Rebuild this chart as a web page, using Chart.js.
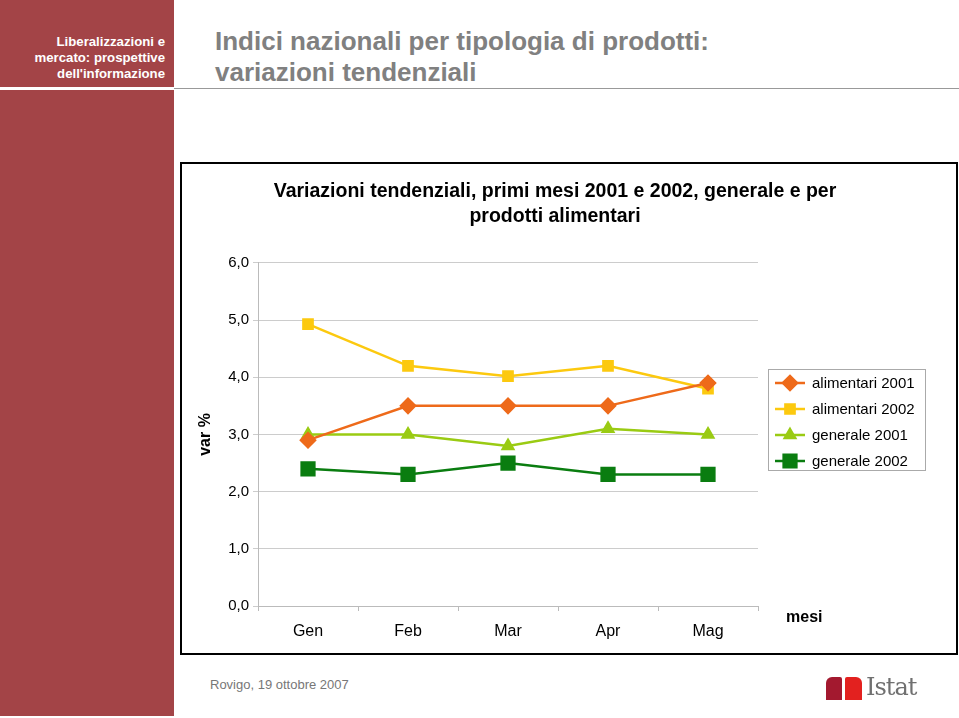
<!DOCTYPE html>
<html>
<head>
<meta charset="utf-8">
<script src="https://cdn.jsdelivr.net/npm/chart.js@4"></script>
<style>
  body { margin: 0; width: 959px; height: 718px; position: relative; background: #fff; font-family: Arial, "Liberation Sans", sans-serif; overflow: hidden; }
  .side { position: absolute; left: 0; width: 174px; background: #a34447; }
  .side-top { top: 0; height: 87px; }
  .side-bot { top: 90px; height: 626px; }
  .side-text { position: absolute; right: 9px; top: 34px; color: #fff; font-weight: bold; font-size: 13.2px; line-height: 16px; text-align: right; }
  .hdr { position: absolute; left: 215px; top: 26px; color: #808080; font-weight: bold; font-size: 26px; line-height: 31px; }
  .rule { position: absolute; left: 174px; top: 88px; width: 785px; height: 1px; background: #999; }
  .box { position: absolute; left: 180px; top: 162px; width: 774px; height: 489px; border: 2px solid #000; }
  canvas { display: block; }
  .mesi { position: absolute; left: 786px; top: 608px; font-weight: bold; font-size: 16px; }
  .foot { position: absolute; left: 210px; top: 677px; color: #777; font-size: 13px; }
  .logo1 { position: absolute; left: 826px; top: 677px; width: 16px; height: 23px; background: #a3192f; border-radius: 6px 2px 0 0; }
  .logo2 { position: absolute; left: 845px; top: 677px; width: 17px; height: 23px; background: #e3211f; border-radius: 2px 6px 0 0; }
  .istat { position: absolute; left: 866px; top: 673px; color: #707070; font-family: "DejaVu Serif", "Liberation Serif", serif; font-size: 24px; letter-spacing: -1px; }
</style>
</head>
<body>
<div class="side side-top"><div class="side-text">Liberalizzazioni e<br>mercato: prospettive<br>dell'informazione</div></div>
<div class="side side-bot"></div>
<div class="hdr">Indici nazionali per tipologia di prodotti:<br>variazioni tendenziali</div>
<div class="rule"></div>
<div class="box"><canvas id="lineChart" width="774" height="489"></canvas></div>
<div class="mesi">mesi</div>
<div class="foot">Rovigo, 19 ottobre 2007</div>
<div class="logo1"></div><div class="logo2"></div><div class="istat">Istat</div>
<script>
const months = ['Gen', 'Feb', 'Mar', 'Apr', 'Mag'];
const alimentari2001 = [2.9, 3.5, 3.5, 3.5, 3.9];
const alimentari2002 = [4.93, 4.2, 4.02, 4.2, 3.8];
const generale2001 = [3.0, 3.0, 2.8, 3.1, 3.0];
const generale2002 = [2.4, 2.3, 2.5, 2.3, 2.3];
const seriesNames = ['alimentari 2001', 'alimentari 2002', 'generale 2001', 'generale 2002'];

// legend drawn like the original: short line with marker in the middle, framed box
const boxLegend = {
    id: 'boxLegend',
    afterDraw(chart) {
        const ctx = chart.ctx;
        const x0 = 586, y0 = 205, w = 157, h = 101;
        ctx.save();
        ctx.strokeStyle = '#aaaaaa';
        ctx.lineWidth = 1;
        ctx.strokeRect(x0 + 0.5, y0 + 0.5, w, h);
        chart.data.datasets.forEach((ds, i) => {
            const y = y0 + 14 + i * 26;
            ctx.strokeStyle = ds.borderColor;
            ctx.lineWidth = ds.borderWidth;
            ctx.beginPath();
            ctx.moveTo(x0 + 7, y);
            ctx.lineTo(x0 + 37, y);
            ctx.stroke();
            ctx.fillStyle = ds.pointBackgroundColor;
            ctx.strokeStyle = ds.pointBackgroundColor;
            Chart.helpers.drawPoint(ctx, {
                pointStyle: ds.pointStyle,
                radius: ds.pointRadius,
                borderWidth: 1
            }, x0 + 22, y);
            ctx.fillStyle = '#000';
            ctx.font = '15px Arial, "Liberation Sans", sans-serif';
            ctx.textBaseline = 'middle';
            ctx.fillText(ds.label, x0 + 44, y + 1);
        });
        ctx.restore();
    }
};

const mkSet = (label, data, color, style, radius) => ({
    label: label,
    data: data,
    borderColor: color,
    backgroundColor: color,
    pointBackgroundColor: color,
    pointBorderColor: color,
    pointStyle: style,
    pointRadius: radius,
    pointHoverRadius: radius,
    borderWidth: 2.5,
    tension: 0
});

const ctx = document.getElementById('lineChart').getContext('2d');
const myChart = new Chart(ctx, {
    type: 'line',
    data: {
        labels: months,
        datasets: [
            mkSet(seriesNames[0], alimentari2001, '#ee6a1a', 'rectRot', 7),
            mkSet(seriesNames[1], alimentari2002, '#fcc90f', 'rect', 6.5),
            mkSet(seriesNames[2], generale2001, '#9acb13', 'triangle', 6),
            mkSet(seriesNames[3], generale2002, '#0a7d10', 'rect', 9)
        ]
    },
    options: {
        responsive: false,
        animation: false,
        layout: { padding: { left: 0, right: 28, top: 0, bottom: 4 } },
        plugins: {
            legend: { display: false },
            tooltip: { enabled: false },
            title: {
                display: true,
                text: ['Variazioni tendenziali, primi mesi 2001 e 2002, generale e per', 'prodotti alimentari'],
                color: '#000',
                font: { family: 'Arial, "Liberation Sans", sans-serif', size: 19.5, weight: 'bold', lineHeight: 1.28 },
                padding: { top: 15.5, bottom: 33.5 }
            }
        },
        scales: {
            x: {
                offset: true,
                afterFit: (scale) => { scale.height = 43; },
                grid: { offset: true, drawOnChartArea: false, drawTicks: true, tickLength: 5, color: '#bbbbbb' },
                border: { color: '#bbbbbb' },
                ticks: { color: '#000', padding: 11, font: { family: 'Arial, "Liberation Sans", sans-serif', size: 16 } }
            },
            y: {
                min: 0,
                max: 6,
                afterFit: (scale) => { scale.width = 76; },
                ticks: {
                    stepSize: 1,
                    color: '#000',
                    padding: 4,
                    font: { family: 'Arial, "Liberation Sans", sans-serif', size: 15 },
                    callback: (v) => v.toFixed(1).replace('.', ',')
                },
                grid: { color: '#cccccc', tickLength: 5 },
                border: { color: '#bbbbbb' },
                title: {
                    display: true,
                    text: 'var %',
                    color: '#000',
                    font: { family: 'Arial, "Liberation Sans", sans-serif', size: 16, weight: 'bold' },
                    padding: { top: 14, bottom: 0 }
                }
            },
            // empty right axis reserving room for the legend and "mesi"
            yRight: {
                position: 'right',
                min: 0,
                max: 6,
                afterFit: (scale) => { scale.width = 170; },
                ticks: { display: false },
                grid: { display: false },
                border: { display: false }
            }
        }
    },
    plugins: [boxLegend]
});
</script>
</body>
</html>
